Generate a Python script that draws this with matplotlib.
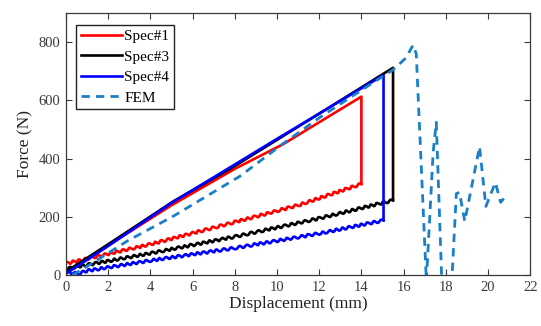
import matplotlib
matplotlib.use("Agg")

import matplotlib.pyplot as plt

# Spec#1 (red)
red_load_x = [0, 1, 2, 5, 8, 10.3, 12, 14.0, 14.0]
red_load_y = [10, 55, 102, 240, 365, 450, 525, 613, 313]
red_unload_x = [14.0, 11, 8, 4, 0]
red_unload_y = [313, 240, 182, 106, 40]

# Spec#3 (black)
black_load_x = [0, 2, 5.1, 7.8, 10.3, 15.5, 15.5]
black_load_y = [12, 106, 254, 366, 478, 712, 257]
black_unload_x = [15.5, 12, 8, 4, 0]
black_unload_y = [257, 195, 132, 75, 22]

# Spec#4 (blue)
blue_load_x = [0, 2, 5, 10, 15.05, 15.05]
blue_load_y = [5, 100, 248, 468, 687, 188]
blue_unload_x = [15.05, 12, 8, 4, 1, 0.6, 0]
blue_unload_y = [188, 143, 93, 50, 15, 5, 10]

# FEM (dashed)
fem_x = [0.3, 1, 2.9, 5.1, 8.25, 10.3, 12, 14, 15.5, 16.1, 16.45, 16.6,
         17.08, 17.4, 17.55, 17.8, 18.05, 18.3, 18.5, 18.65, 18.9, 19.6,
         19.9, 20.35, 20.6, 20.9]
fem_y = [0, 30, 117, 203, 340, 452, 540, 635, 705, 745, 790, 760,
         -20, 420, 525, 0, -150, 0, 280, 284, 185, 441,
         236, 318, 250, 277]

x_ticks = [0, 2, 4, 6, 8, 10, 12, 14, 16, 18, 20, 22]
y_ticks = [0, 200, 400, 600, 800]

GRAY = "#3a3a3a"
plt.rcParams["font.family"] = ["Liberation Serif", "DejaVu Serif"]

fig = plt.figure(figsize=(5.41, 3.26), dpi=100)
ax = fig.add_axes([0.122, 0.156, 0.858, 0.804])

lw = 1.9
wiggle = (1.3, 7, 1.5)

l1, = ax.plot(red_load_x, red_load_y, color="#ff0000", lw=lw, label="Spec#1")
u1, = ax.plot(red_unload_x, red_unload_y, color="#ff0000", lw=lw)
l3, = ax.plot(black_load_x, black_load_y, color="black", lw=lw, label="Spec#3")
u3, = ax.plot(black_unload_x, black_unload_y, color="black", lw=lw)
l4, = ax.plot(blue_load_x, blue_load_y, color="#0000ff", lw=lw, label="Spec#4")
u4, = ax.plot(blue_unload_x, blue_unload_y, color="#0000ff", lw=lw)
for u in (u1, u3, u4):
    u.set_sketch_params(*wiggle)
lf, = ax.plot(fem_x, fem_y, color="#1a7fc6", lw=2.0, ls=(0, (3, 2.2)), label="FEM")

ax.set_xlim(0, 22)
ax.set_ylim(0, 900)
ax.set_xticks(x_ticks)
ax.set_yticks(y_ticks)
ax.tick_params(direction="in", length=4, width=0.8, top=True, right=True,
               labelsize=10.5, colors=GRAY, pad=4)
for s in ax.spines.values():
    s.set_color(GRAY)
    s.set_linewidth(0.9)

ax.set_xlabel("Displacement (mm)", fontsize=12.5, color="#222222", labelpad=2)
ax.set_ylabel("Force (N)", fontsize=12.5, color="#222222", labelpad=4)

leg = ax.legend(handles=[l1, l3, l4, lf], loc="upper left",
                bbox_to_anchor=(0.022, 0.955), fontsize=11, frameon=True,
                fancybox=False, edgecolor="#222222", framealpha=1,
                handlelength=2.7, handletextpad=0.15, labelspacing=0.45,
                borderpad=0.3, borderaxespad=0)
leg.get_frame().set_linewidth(1.0)

fig.savefig("out.png", dpi=100)
